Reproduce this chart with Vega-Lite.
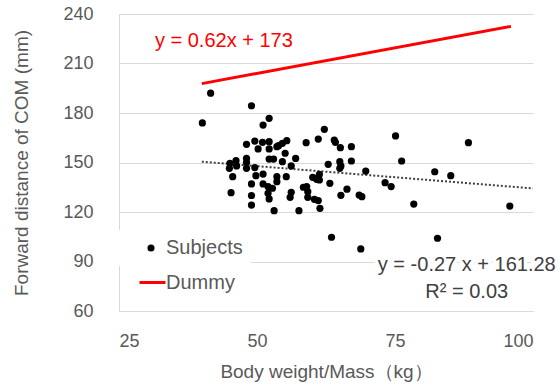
{
  "$schema": "https://vega.github.io/schema/vega-lite/v6.json",
  "width": 414,
  "height": 297,
  "autosize": {"type": "none"},
  "padding": {"left": 119, "top": 14, "right": 26, "bottom": 76},
  "background": "#ffffff",
  "config": {
    "view": {"stroke": null},
    "font": "Liberation Sans",
    "axis": {"labelColor": "#595959", "titleColor": "#595959", "labelFont": "Liberation Sans", "titleFont": "Liberation Sans", "titleFontWeight": "normal", "domainColor": "#d9d9d9", "gridColor": "#d9d9d9", "ticks": false},
    "legend": {"labelFont": "Liberation Sans", "labelFontSize": 20, "labelColor": "#595959", "title": null}
  },
  "datasets": {
    "subjects": [
      {"mass": 41.6, "com": 192.0}, {"mass": 49.0, "com": 184.4}, {"mass": 40.1, "com": 174.0}, {"mass": 52.2, "com": 176.8},
      {"mass": 51.1, "com": 172.7}, {"mass": 48.1, "com": 161.0}, {"mass": 49.6, "com": 163.0}, {"mass": 50.2, "com": 158.2},
      {"mass": 51.0, "com": 162.2}, {"mass": 52.2, "com": 162.6}, {"mass": 52.2, "com": 158.2}, {"mass": 53.6, "com": 159.6},
      {"mass": 48.1, "com": 152.5}, {"mass": 48.1, "com": 150.0}, {"mass": 46.2, "com": 151.1}, {"mass": 45.1, "com": 149.5},
      {"mass": 45.0, "com": 146.5}, {"mass": 46.3, "com": 147.9}, {"mass": 48.1, "com": 146.5}, {"mass": 49.6, "com": 146.9},
      {"mass": 45.6, "com": 141.4}, {"mass": 49.8, "com": 142.0}, {"mass": 51.1, "com": 143.0}, {"mass": 52.2, "com": 152.1},
      {"mass": 53.0, "com": 152.1}, {"mass": 45.3, "com": 131.7}, {"mass": 49.0, "com": 137.0}, {"mass": 51.1, "com": 137.0},
      {"mass": 52.0, "com": 135.4}, {"mass": 52.8, "com": 134.4}, {"mass": 53.6, "com": 138.4}, {"mass": 49.0, "com": 130.0},
      {"mass": 52.0, "com": 131.3}, {"mass": 52.2, "com": 127.9}, {"mass": 49.0, "com": 124.2}, {"mass": 53.1, "com": 120.8},
      {"mass": 62.2, "com": 170.1}, {"mass": 75.1, "com": 166.1}, {"mass": 53.9, "com": 160.2}, {"mass": 54.6, "com": 161.6},
      {"mass": 55.4, "com": 163.2}, {"mass": 58.9, "com": 162.0}, {"mass": 61.1, "com": 164.2}, {"mass": 64.0, "com": 163.6},
      {"mass": 64.2, "com": 162.2}, {"mass": 65.1, "com": 159.0}, {"mass": 67.1, "com": 159.6}, {"mass": 55.1, "com": 155.6},
      {"mass": 54.6, "com": 150.5}, {"mass": 57.0, "com": 152.5}, {"mass": 56.2, "com": 147.9}, {"mass": 62.9, "com": 148.9},
      {"mass": 65.0, "com": 150.5}, {"mass": 65.2, "com": 147.9}, {"mass": 65.0, "com": 146.5}, {"mass": 67.1, "com": 150.9},
      {"mass": 76.2, "com": 150.9}, {"mass": 69.7, "com": 144.8}, {"mass": 53.6, "com": 141.4}, {"mass": 55.3, "com": 141.4},
      {"mass": 60.1, "com": 141.0}, {"mass": 60.8, "com": 139.8}, {"mass": 61.3, "com": 142.8}, {"mass": 61.3, "com": 139.4},
      {"mass": 63.2, "com": 137.4}, {"mass": 73.2, "com": 137.8}, {"mass": 74.3, "com": 135.4}, {"mass": 58.4, "com": 135.0},
      {"mass": 59.0, "com": 135.4}, {"mass": 66.3, "com": 133.8}, {"mass": 56.2, "com": 131.9}, {"mass": 59.2, "com": 132.3},
      {"mass": 56.0, "com": 128.9}, {"mass": 59.2, "com": 128.9}, {"mass": 60.4, "com": 127.7}, {"mass": 61.1, "com": 126.9},
      {"mass": 65.2, "com": 130.1}, {"mass": 68.5, "com": 130.3}, {"mass": 69.0, "com": 129.3}, {"mass": 57.6, "com": 120.8},
      {"mass": 61.4, "com": 122.2}, {"mass": 78.4, "com": 124.8}, {"mass": 63.5, "com": 104.7}, {"mass": 68.8, "com": 97.6},
      {"mass": 88.3, "com": 162.0}, {"mass": 82.2, "com": 144.4}, {"mass": 85.1, "com": 142.0}, {"mass": 95.8, "com": 123.6},
      {"mass": 82.7, "com": 104.1}
    ],
    "dummy": [
      {"mass": 40, "com": 197.8, "series": "Dummy"},
      {"mass": 96, "com": 232.5, "series": "Dummy"}
    ],
    "trend": [
      {"mass": 40, "com": 150.5},
      {"mass": 100, "com": 134.3}
    ],
    "labels": [
      {"mass": 44.0, "com": 223.8, "text": "y = 0.62x + 173", "kind": "dummy"},
      {"mass": 88.0, "com": 87.9, "text": "y = -0.27 x + 161.28", "kind": "trend"},
      {"mass": 88.0, "com": 71.5, "text": "R² = 0.03", "kind": "trend"}
    ]
  },
  "encoding": {
    "x": {
      "type": "quantitative",
      "scale": {"domain": [25, 100], "nice": false, "zero": false},
      "axis": {"values": [25, 50, 75, 100], "grid": false, "labelPadding": 21, "labelFontSize": 18, "title": "Body weight/Mass（kg）", "titleFontSize": 19, "titlePadding": 12}
    },
    "y": {
      "type": "quantitative",
      "scale": {"domain": [60, 240], "nice": false, "zero": false},
      "axis": {"values": [60, 90, 120, 150, 180, 210, 240], "grid": true, "labelPadding": 26, "labelFontSize": 18, "title": "Forward distance of COM (mm)", "titleFontSize": 19, "titlePadding": 31}
    }
  },
  "layer": [
    {
      "data": {"name": "trend"},
      "mark": {"type": "line", "color": "#404040", "strokeWidth": 2, "strokeDash": [2, 2]},
      "encoding": {"x": {"field": "mass", "type": "quantitative"}, "y": {"field": "com", "type": "quantitative"}}
    },
    {
      "data": {"name": "subjects"},
      "transform": [{"calculate": "'Subjects'", "as": "series"}],
      "mark": {"type": "point", "filled": true, "size": 52, "opacity": 1},
      "encoding": {
        "x": {"field": "mass", "type": "quantitative"},
        "y": {"field": "com", "type": "quantitative"},
        "fill": {
          "field": "series", "type": "nominal",
          "scale": {"domain": ["Subjects"], "range": ["#000000"]},
          "legend": {
            "orient": "none", "legendX": 0, "legendY": 216, "padding": 8,
            "fillColor": "#ffffff", "symbolType": "circle", "symbolSize": 50,
            "symbolOffset": 14, "labelOffset": 5
          }
        }
      }
    },
    {
      "data": {"name": "dummy"},
      "mark": {"type": "line", "strokeWidth": 3},
      "encoding": {
        "x": {"field": "mass", "type": "quantitative"},
        "y": {"field": "com", "type": "quantitative"},
        "stroke": {
          "field": "series", "type": "nominal",
          "scale": {"domain": ["Dummy"], "range": ["#ff0000"]},
          "legend": {
            "orient": "none", "legendX": 19, "legendY": 254, "padding": 0,
            "symbolType": "stroke", "symbolSize": 676, "symbolStrokeWidth": 3, "labelOffset": -1
          }
        }
      }
    },
    {
      "data": {"name": "labels"},
      "mark": {"type": "text", "fontSize": 20, "align": "center", "baseline": "middle", "font": "Liberation Sans", "stroke": "#ffffff", "strokeWidth": 7, "fill": "#ffffff"},
      "encoding": {
        "x": {"field": "mass", "type": "quantitative"},
        "y": {"field": "com", "type": "quantitative"},
        "text": {"field": "text"}
      }
    },
    {
      "data": {"name": "labels"},
      "mark": {"type": "text", "fontSize": 20, "align": "center", "baseline": "middle", "font": "Liberation Sans"},
      "encoding": {
        "x": {"field": "mass", "type": "quantitative"},
        "y": {"field": "com", "type": "quantitative"},
        "text": {"field": "text"},
        "color": {"condition": {"test": "datum.kind === 'dummy'", "value": "#ff0000"}, "value": "#404040"}
      }
    }
  ]
}
